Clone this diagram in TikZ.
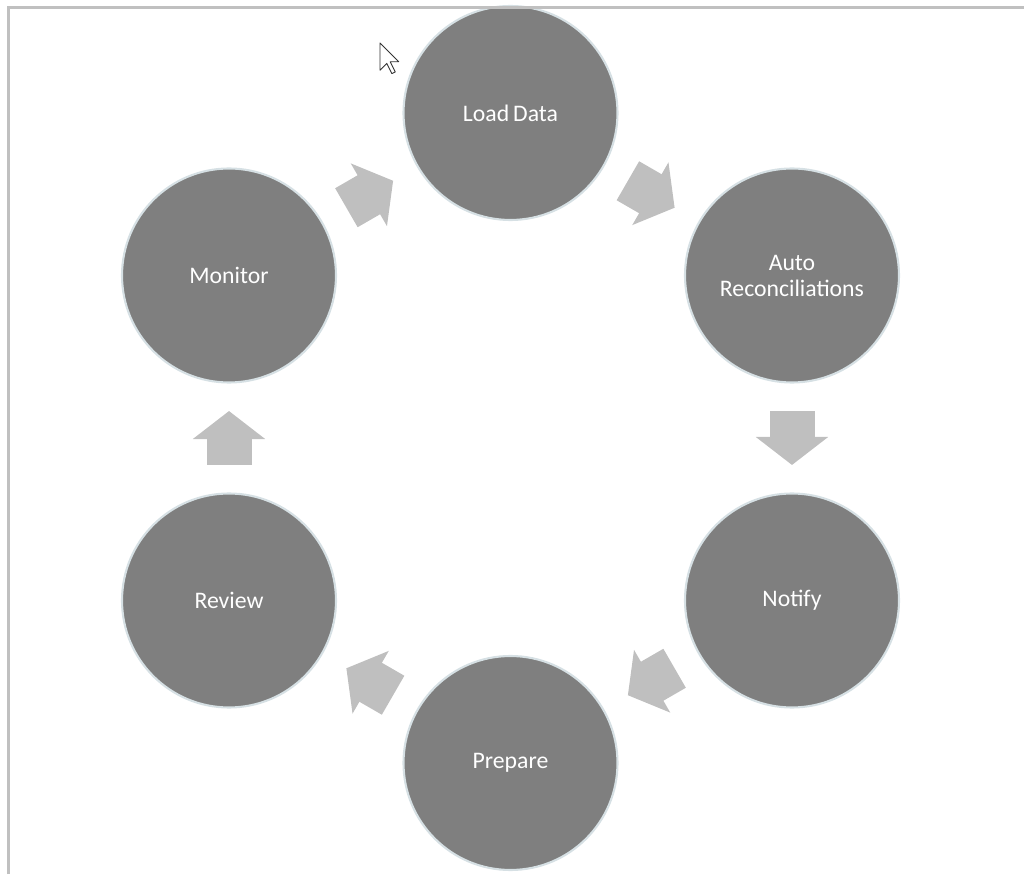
\documentclass[tikz,border=0pt]{standalone}
\usepackage{fontspec}
\setmainfont{Carlito}
\usepackage{tikz}
\usetikzlibrary{arrows.meta}
\usetikzlibrary{positioning}

\definecolor{stagegray}{RGB}{127,127,127}
\definecolor{ringgray}{RGB}{214,224,228}
\definecolor{flowgray}{RGB}{191,191,191}
\definecolor{framegray}{RGB}{192,192,192}

\tikzset{
  stage/.style={circle, fill=stagegray, draw=ringgray, line width=1.2pt,
    minimum size=4.28cm, inner sep=0pt, text=white, align=center,
    font=\fontsize{13.5}{14.8}\selectfont},
  flow/.style={line width=0.9cm, flowgray, shorten <=0.55cm, shorten >=0.55cm,
    -{Triangle[length=0.56cm, width=1.44cm, line width=1.5pt]}}
}

\begin{document}
\begin{tikzpicture}
  \useasboundingbox (0,0) rectangle (20.48,17.48);
  %\tikzstyle{every node}=[font=\small]

  \node[stage] (load)   at (10.21,15.22) {Load\,Data};
  \node[stage] (auto)   at (15.84,11.97) {Auto\\Reconciliations};
  \node[stage] (notify) at (15.84,5.47)  {Notify};
  \node[stage] (prep)   at (10.21,2.22)  {Prepare};
  \node[stage] (review) at (4.58,5.47)   {Review};
  \node[stage] (mon)    at (4.58,11.97)  {Monitor};

  \draw[flow] (load)   -- (auto);
  \draw[flow] (auto)   -- (notify);
  \draw[flow] (notify) -- (prep);
  \draw[flow] (prep)   -- (review);
  \draw[flow] (review) -- (mon);
  \draw[flow] (mon)    -- (load);

  % frame of the screenshot
  \draw[framegray, line width=0.06cm] (0.16,0) -- (0.16,17.32) -- (20.48,17.32);

  % mouse pointer
  \draw[fill=white, draw=black!80, line width=0.5pt, line join=round,
    shift={(7.6,16.62)}, x=0.034cm, y=-0.034cm]
    (0,0) -- (0,16) -- (4,12) -- (7,18) -- (9,17) -- (6,11) -- (11,11) -- cycle;
\end{tikzpicture}
\end{document}
